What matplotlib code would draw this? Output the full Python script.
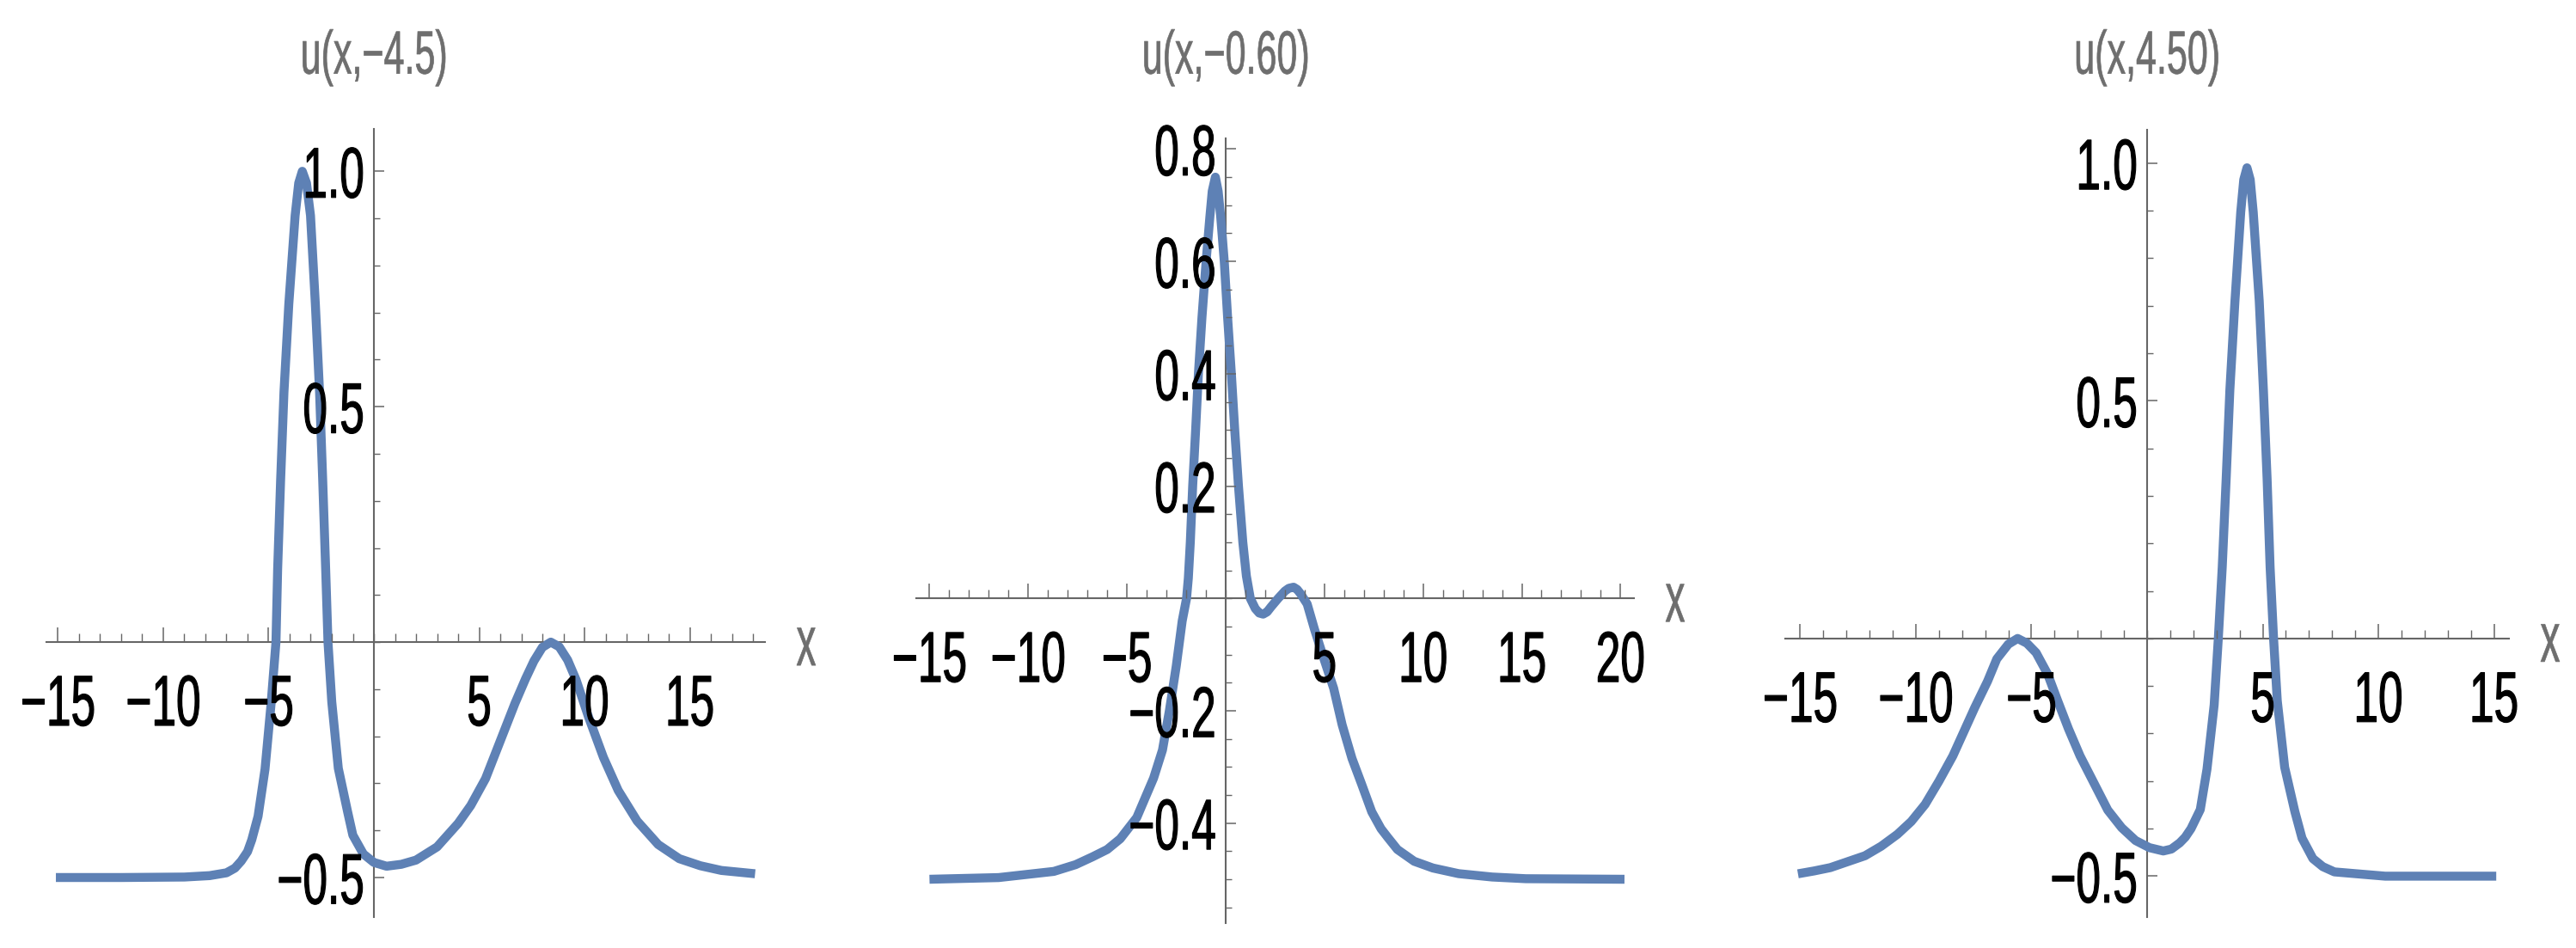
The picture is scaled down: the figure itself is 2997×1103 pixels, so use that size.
import numpy as np
import matplotlib
matplotlib.use('Agg')
import matplotlib.pyplot as plt
import matplotlib.ticker as mticker
import matplotlib.transforms as mtransforms
from matplotlib.patheffects import AbstractPathEffect
from matplotlib.textpath import TextToPath

plt.rcParams['font.family'] = ['Liberation Sans', 'DejaVu Sans']


class VStretch(AbstractPathEffect):
    # the reference was squashed sideways, so the lettering is tall and narrow:
    # stretch the glyphs vertically about a pivot given in em above the baseline
    def __init__(self, sy, pivot_em, stroke=0.0):
        super().__init__()
        self.sy = sy
        self.pivot_em = pivot_em
        self.stroke = stroke

    def draw_path(self, renderer, gc, tpath, affine, rgbFace=None):
        m = affine.get_matrix()
        em = m[1, 1] * TextToPath.FONT_SCALE
        py = m[1, 2] + self.pivot_em * em
        new = affine + mtransforms.Affine2D().translate(0, -py).scale(1, self.sy).translate(0, py)
        gc0 = renderer.new_gc()
        gc0.copy_properties(gc)
        if self.stroke > 0 and rgbFace is not None:
            gc0.set_linewidth(self.stroke)
            gc0.set_foreground(rgbFace)
        renderer.draw_path(gc0, tpath, new, rgbFace)
        gc0.restore()


titles = ['u(x,\u22124.5)', 'u(x,\u22120.60)', 'u(x,4.50)']

# t = -4.5
x1 = [-15.1, -12.0, -9.0, -7.8, -7.0, -6.6, -6.3, -6.0, -5.8, -5.5, -5.17, -4.88, -4.65, -4.57,
      -4.43, -4.27, -4.04, -3.74, -3.57, -3.4, -3.2, -3.01, -2.78, -2.58, -2.43, -2.29, -2.18,
      -2.0, -1.69, -1.25, -1.0, -0.5, 0.0, 0.6, 1.3, 2.0, 3.0, 4.0, 4.6, 5.3, 6.0, 6.7, 7.2,
      7.6, 8.0, 8.4, 8.8, 9.2, 9.6, 10.2, 10.9, 11.6, 12.5, 13.5, 14.5, 15.5, 16.5, 18.1]
y1 = [-0.500, -0.500, -0.499, -0.496, -0.490, -0.480, -0.465, -0.445, -0.420, -0.370, -0.270,
      -0.130, 0.0, 0.155, 0.343, 0.531, 0.718, 0.906, 0.975, 1.0, 0.975, 0.906, 0.718, 0.531,
      0.343, 0.155, 0.0, -0.127, -0.268, -0.360, -0.410, -0.450, -0.468, -0.476, -0.472,
      -0.463, -0.435, -0.385, -0.347, -0.290, -0.210, -0.130, -0.078, -0.040, -0.011, 0.0,
      -0.010, -0.038, -0.080, -0.160, -0.245, -0.315, -0.380, -0.430, -0.460, -0.475, -0.485,
      -0.492]

# t = -0.6
x2 = [-15.0, -11.5, -8.7, -7.6, -6.74, -6.0, -5.34, -4.5, -3.65, -3.2, -2.85, -2.5, -2.2,
      -1.98, -1.89, -1.79, -1.67, -1.52, -1.38, -1.2, -0.99, -0.8, -0.68, -0.52, -0.38, -0.25,
      -0.07, 0.1, 0.29, 0.46, 0.65, 0.87, 1.05, 1.25, 1.5, 1.7, 1.9, 2.1, 2.3, 2.66, 3.0, 3.2,
      3.44, 3.62, 3.8, 4.13, 4.5, 5.0, 5.47, 5.9, 6.4, 6.88, 7.4, 7.87, 8.2, 8.7, 9.55, 10.5,
      11.8, 13.5, 15.2, 20.2]
y2 = [-0.500, -0.497, -0.486, -0.474, -0.460, -0.447, -0.428, -0.390, -0.320, -0.270, -0.200,
      -0.120, -0.040, 0.0, 0.036, 0.1, 0.2, 0.3, 0.4, 0.5, 0.6, 0.679, 0.725, 0.750, 0.725,
      0.679, 0.6, 0.5, 0.4, 0.3, 0.2, 0.1, 0.04, 0.0, -0.018, -0.026, -0.028, -0.024, -0.015,
      0.0, 0.013, 0.018, 0.020, 0.016, 0.008, -0.010, -0.055, -0.110, -0.160, -0.225, -0.285,
      -0.330, -0.380, -0.410, -0.425, -0.447, -0.468, -0.480, -0.490, -0.496, -0.499, -0.500]

# t = 4.5
x3 = [-15.1, -14.4, -13.7, -12.2, -11.5, -10.8, -10.2, -9.6, -9.0, -8.4, -7.45, -6.9, -6.5,
      -6.0, -5.6, -5.2, -4.8, -4.3, -3.86, -3.4, -2.9, -1.7, -1.1, -0.5, 0.1, 0.7, 1.05, 1.41,
      1.65, 1.9, 2.3, 2.59, 2.9, 3.08, 3.25, 3.42, 3.58, 3.8, 4.05, 4.18, 4.32, 4.46, 4.59,
      4.85, 5.03, 5.19, 5.32, 5.47, 5.63, 5.95, 6.39, 6.7, 7.17, 7.6, 8.1, 10.3, 15.1]
y3 = [-0.495, -0.489, -0.482, -0.457, -0.437, -0.412, -0.385, -0.349, -0.300, -0.247, -0.145,
      -0.090, -0.043, -0.012, 0.0, -0.010, -0.030, -0.075, -0.132, -0.190, -0.247, -0.361,
      -0.398, -0.425, -0.440, -0.447, -0.443, -0.430, -0.418, -0.400, -0.360, -0.275, -0.140,
      0.0, 0.150, 0.336, 0.523, 0.710, 0.897, 0.965, 0.990, 0.965, 0.897, 0.710, 0.523, 0.336,
      0.150, 0.0, -0.131, -0.271, -0.364, -0.420, -0.463, -0.480, -0.491, -0.500, -0.500]

xs = [x1, x2, x3]
ys = [y1, y2, y3]
xticks = [[-15, -10, -5, 5, 10, 15], [-15, -10, -5, 5, 10, 15, 20], [-15, -10, -5, 5, 10, 15]]
yticks = [[-0.5, 0.5, 1.0], [-0.4, -0.2, 0.2, 0.4, 0.6, 0.8], [-0.5, 0.5, 1.0]]
yminor = [0.1, 0.05, 0.1]

W, H = 2997, 1103
# pixel box of each axes (left, right, top, bottom) and the data range it spans
boxes = [(54, 890, 150, 1067), (1066, 1901, 161, 1074), (2077, 2919, 151, 1067)]
lims = [((-15.55, 18.57), (-0.584, 1.09)),
        ((-15.67, 20.68), (-0.578, 0.819)),
        ((-15.65, 15.65), (-0.586, 1.07))]

fig = plt.figure(figsize=(W / 100, H / 100), dpi=100)
fig.patch.set_facecolor('white')

axcol = '#666666'
curve = '#5E81B5'
gray_txt = '#6e6e6e'

for i in range(3):
    l, r, t, b = boxes[i]
    ax = fig.add_axes([l / W, (H - b) / H, (r - l) / W, (b - t) / H])
    ax.set_xlim(*lims[i][0])
    ax.set_ylim(*lims[i][1])
    ax.patch.set_alpha(0)

    ax.plot(xs[i], ys[i], color=curve, lw=7.5, solid_joinstyle='round',
            solid_capstyle='butt', zorder=2.4)

    for s in ['top', 'right']:
        ax.spines[s].set_visible(False)
    for s in ['left', 'bottom']:
        ax.spines[s].set_position(('data', 0))
        ax.spines[s].set_color(axcol)
        ax.spines[s].set_linewidth(1.5)
        ax.spines[s].set_zorder(2.2)
    ax.xaxis.set_zorder(2.6)
    ax.yaxis.set_zorder(2.6)

    ax.xaxis.set_major_locator(mticker.FixedLocator(xticks[i]))
    ax.xaxis.set_minor_locator(mticker.MultipleLocator(1))
    ax.yaxis.set_major_locator(mticker.FixedLocator(yticks[i]))
    ax.yaxis.set_minor_locator(mticker.MultipleLocator(yminor[i]))
    ax.set_xticklabels([str(v).replace('-', '\u2212') for v in xticks[i]])
    ax.set_yticklabels([f'{v:.1f}'.replace('-', '\u2212') for v in yticks[i]])

    ax.tick_params(axis='x', which='major', direction='in', length=12, width=1.1,
                   color=axcol, pad=26, labelsize=37, labelcolor='black')
    ax.tick_params(axis='x', which='minor', direction='in', length=7, width=1.0, color=axcol)
    ax.tick_params(axis='y', which='major', direction='in', length=8.6, width=1.1,
                   color=axcol, pad=8, labelsize=37, labelcolor='black')
    ax.tick_params(axis='y', which='minor', direction='in', length=5, width=1.0, color=axcol)

    for tk in ax.xaxis.get_major_ticks():
        tk.label1.set_path_effects([VStretch(1.62, 0.716, stroke=0.8)])
    for tk in ax.yaxis.get_major_ticks():
        tk.label1.set_path_effects([VStretch(1.62, 0.36, stroke=0.8)])

    # title sits above the y axis, like Mathematica's AxesLabel
    tr = mtransforms.blended_transform_factory(ax.transData, fig.transFigure)
    ax.text(0, 1 - 60 / H, titles[i], transform=tr, ha='center', va='center_baseline',
            fontsize=31, color=gray_txt, path_effects=[VStretch(1.65, 0.36, stroke=0.5)])
    ax.annotate('x', xy=(1, 0), xycoords=('axes fraction', 'data'),
                xytext=(48 * 0.72, -27 * 0.72), textcoords='offset points',
                ha='center', va='baseline', fontsize=33, color=gray_txt,
                path_effects=[VStretch(1.8, 0.0, stroke=0.5)])

fig.savefig('out.png', dpi=100, facecolor='white')
